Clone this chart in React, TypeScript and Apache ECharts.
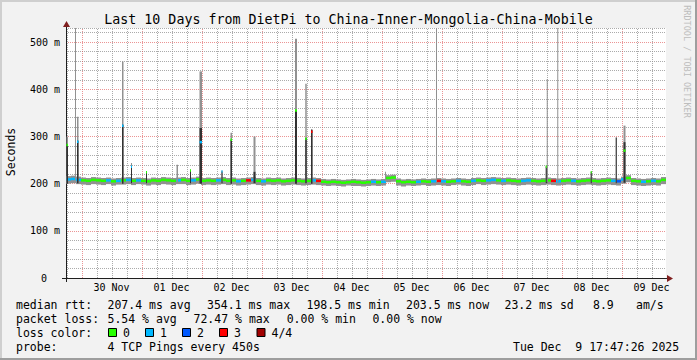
import React, { useEffect, useRef } from 'react';
import * as echarts from 'echarts';

const MONO = '"DejaVu Sans Mono", "Liberation Mono", monospace';

// ---- axes (x = hours since window start, Sat 29 Nov 2025 17:47:26) ----
const windowHours = 240;
const firstMidnightH = 6.2094; // 30 Nov 00:00
const dayLabels = ['30 Nov', '01 Dec', '02 Dec', '03 Dec', '04 Dec', '05 Dec', '06 Dec', '07 Dec', '08 Dec', '09 Dec'];
const yMaxMs = 530;
const yLabelValues = [0, 100, 200, 300, 400, 500];

// ---- baseline smoke, 2-hour buckets ----
const bucketHours = 2;
const medianMs = [
  209, 210, 208, 207, 206, 208, 207, 206, 207, 205,
  206, 207, 208, 206, 207, 206, 205, 207, 206, 208,
  207, 206, 207, 208, 206, 207, 209, 206, 207, 206,
  207, 208, 206, 207, 205, 206, 207, 208, 206, 205,
  207, 206, 207, 205, 206, 207, 206, 205, 206, 207,
  206, 204, 203, 204, 203, 202, 203, 204, 203, 202,
  203, 204, 203, 204, 212, 213, 205, 203, 204, 203,
  204, 205, 204, 205, 206, 205, 204, 205, 206, 205,
  204, 206, 207, 206, 207, 208, 207, 206, 207, 206,
  205, 206, 207, 206, 205, 206, 207, 206, 205, 206,
  207, 206, 205, 206, 207, 206, 205, 206, 207, 206,
  205, 209, 212, 206, 205, 204, 205, 206, 205, 208,
];
const smokeLowMs = [
  200, 201, 199, 198, 197, 199, 198, 197, 199, 196,
  198, 198, 199, 197, 199, 198, 196, 198, 197, 199,
  198, 197, 199, 199, 197, 198, 200, 197, 198, 197,
  198, 199, 197, 198, 196, 197, 198, 199, 197, 196,
  198, 197, 198, 196, 197, 198, 197, 196, 197, 198,
  197, 196, 195, 196, 195, 194, 196, 195, 195, 194,
  195, 196, 195, 196, 203, 204, 196, 194, 196, 195,
  196, 197, 195, 196, 197, 196, 195, 197, 198, 196,
  195, 197, 199, 197, 198, 199, 198, 197, 198, 197,
  196, 197, 198, 197, 196, 197, 198, 197, 196, 197,
  198, 197, 196, 197, 198, 197, 196, 197, 198, 197,
  196, 200, 203, 197, 196, 195, 196, 197, 196, 199,
];
const smokeHighMs = [
  216, 217, 215, 213, 212, 214, 213, 212, 213, 211,
  212, 213, 214, 212, 213, 212, 211, 213, 212, 214,
  213, 212, 213, 214, 212, 213, 215, 212, 213, 212,
  213, 214, 212, 213, 211, 212, 213, 214, 212, 211,
  213, 212, 213, 211, 212, 213, 212, 211, 212, 213,
  212, 210, 209, 210, 209, 208, 209, 210, 209, 208,
  209, 210, 209, 210, 218, 219, 211, 209, 210, 209,
  210, 211, 210, 211, 212, 211, 210, 211, 212, 211,
  210, 212, 213, 212, 213, 214, 213, 212, 213, 212,
  211, 212, 213, 212, 211, 212, 213, 212, 211, 212,
  213, 212, 211, 212, 213, 212, 211, 212, 213, 212,
  211, 215, 218, 212, 211, 210, 211, 212, 211, 214,
];
const lossCount = [
  1, 1, 1, 0, 0, 0, 0, 0, 1, 0,
  1, 0, 1, 0, 1, 0, 0, 0, 0, 0,
  0, 0, 1, 0, 0, 1, 0, 0, 0, 0,
  1, 0, 0, 0, 1, 0, 3, 1, 0, 1,
  0, 0, 0, 0, 0, 0, 0, 0, 0, 1,
  3, 0, 0, 0, 0, 0, 0, 0, 0, 0,
  0, 1, 0, 1, 0, 0, 0, 0, 0, 0,
  1, 0, 0, 1, 3, 1, 0, 0, 1, 0,
  0, 1, 0, 0, 1, 1, 0, 1, 0, 0,
  0, 1, 1, 0, 0, 0, 0, 3, 1, 0,
  0, 1, 0, 0, 0, 0, 0, 0, 0, 1,
  2, 1, 0, 0, 0, 1, 0, 1, 0, 0,
];

// ---- spikes ----
const spikeStartH = [0.2, 3.6, 4.4, 22.4, 26.0, 32.0, 44.2, 49.6, 53.4, 62.2, 65.8, 75.0, 91.6, 95.7, 98.0, 127.6, 148.0, 191.9, 192.3, 196.5, 209.9, 219.9, 223.0];
const spikeDurH = [0.6, 0.4, 0.6, 0.6, 0.4, 0.4, 0.6, 0.4, 1.0, 0.4, 0.6, 0.8, 0.8, 0.6, 0.6, 0.4, 0.4, 0.6, 0.4, 0.4, 0.4, 0.4, 0.8];
const spikeLowMs = [200, 202, 201, 200, 201, 201, 203, 201, 200, 201, 200, 201, 200, 201, 200, 205, 203, 201, 203, 203, 201, 201, 202];
const spikeHighMs = [300, 540, 342, 459, 244, 226, 240, 230, 438, 228, 308, 300, 507, 412, 316, 225, 540, 238, 422, 540, 226, 298, 323];
const spikeInnerMs: (number | null)[] = [284, null, 291, 325, 234, 224, null, 228, 318, 226, 293, 225, 355, 297, 314, null, null, 236, null, null, 224, 298, 288];
const spikeMedianMs: (number | null)[] = [282, null, 289, 323, 236, 224, null, 228, 288, 226, 293, null, 355, 295, 310, null, null, 236, null, null, 224, null, 270];
const spikeLoss = [0, 0, 1, 1, 1, 0, 0, 0, 1, 1, 0, 0, 0, 0, 3, 0, 0, 0, 0, 0, 0, 0, 0];

const lossColors = ['#26ff00', '#00b8ff', '#0059ff', '#ff0000', '#a10000'];
const lossLabels = ['0', '1', '2', '3', '4/4'];

// ---- legend text ----
const titleText = 'Last 10 Days from DietPi to China-Inner-Mongolia-China-Mobile';
const rttStats = ['207.4 ms avg', '354.1 ms max', '198.5 ms min', '203.5 ms now', '23.2 ms sd', '8.9', 'am/s'];
const lossStats = ['5.54 % avg', '72.47 % max', '0.00 % min', '0.00 % now'];
const probeText = '4 TCP Pings every 450s';
const dateText = 'Tue Dec\u00a0\u00a09 17:47:26 2025';

const GRID_MINOR = 'rgba(143,143,143,0.75)';
const GRID_MAJOR = 'rgba(222,79,79,0.6)';

export default function App() {
  const ref = useRef<HTMLDivElement>(null);

  useEffect(() => {
    const el = ref.current;
    if (!el) return;
    const chart = echarts.init(el, undefined, { renderer: 'svg' });

    const gridLines: number[][] = [];
    for (let k = 0; firstMidnightH - 6 + 6 * k < windowHours; k++) {
      const h = firstMidnightH - 6 + 6 * k;
      if (h > 0) gridLines.push([h, (k % 4) === 1 ? 1 : 0]);
    }
    const firstNoonH = firstMidnightH + 12;

    const smokeData = medianMs.map((m, i) => [i * bucketHours, smokeLowMs[i], smokeHighMs[i], m, lossCount[i]]);
    const spikeData = spikeStartH.map((t, i) => [t, spikeDurH[i], spikeLowMs[i], spikeHighMs[i]]);

    const txt = (x: number, y: number, text: string, size = 11.5, extra: any = {}) => ({
      type: 'text', x, y, silent: true,
      style: { text, fontFamily: MONO, fontSize: size, fill: '#000', align: 'left', verticalAlign: 'middle', ...extra },
    });

    const rttX = [107.5, 207, 306.5, 406, 504.5, 593, 636];
    const lossX = [107.5, 193.5, 286.7, 372.4];
    const boxX = [108.5, 145.5, 182.5, 219.5, 257];

    const graphics: any[] = [
      // frame shading
      { type: 'line', silent: true, shape: { x1: 0, y1: 1, x2: 697, y2: 1 }, style: { stroke: '#cfcfcf', lineWidth: 2 } },
      { type: 'line', silent: true, shape: { x1: 1, y1: 0, x2: 1, y2: 360 }, style: { stroke: '#cfcfcf', lineWidth: 2 } },
      { type: 'line', silent: true, shape: { x1: 0, y1: 359, x2: 697, y2: 359 }, style: { stroke: '#9e9e9e', lineWidth: 2 } },
      { type: 'line', silent: true, shape: { x1: 696, y1: 0, x2: 696, y2: 360 }, style: { stroke: '#9e9e9e', lineWidth: 2 } },
      // axis extensions and arrows
      { type: 'line', silent: true, shape: { x1: 62, y1: 278.5, x2: 668, y2: 278.5 }, style: { stroke: '#1f1f1f', lineWidth: 1 } },
      { type: 'line', silent: true, shape: { x1: 66.5, y1: 282, x2: 66.5, y2: 24 }, style: { stroke: '#1f1f1f', lineWidth: 1 } },
      { type: 'polygon', silent: true, shape: { points: [[667, 275], [673, 278.5], [667, 282]] }, style: { fill: '#801f1f' } },
      { type: 'polygon', silent: true, shape: { points: [[63, 27], [66.5, 21], [70, 27]] }, style: { fill: '#801f1f' } },
      // title, axis title, watermark
      txt(348.5, 19.5, titleText, 13.3, { align: 'center' }),
      { ...txt(11, 152, 'Seconds', 11.5, { align: 'center' }), rotation: Math.PI / 2 },
      { ...txt(686.5, 61.5, 'RRDTOOL / TOBI OETIKER', 8.5, { align: 'center', fill: '#bdbdbd' }), rotation: -Math.PI / 2 },
      // legend
      txt(16, 304.5, 'median rtt:'),
      ...rttStats.map((s, i) => txt(rttX[i], 304.5, s)),
      txt(16, 318.5, 'packet loss:'),
      ...lossStats.map((s, i) => txt(lossX[i], 318.5, s)),
      txt(16, 332.5, 'loss color:'),
      ...lossLabels.flatMap((s, i) => [
        { type: 'rect', silent: true, shape: { x: boxX[i], y: 328.5, width: 8, height: 8 }, style: { fill: lossColors[i], stroke: '#000', lineWidth: 1 } },
        txt(boxX[i] + 14.5, 332.5, s),
      ]),
      txt(16, 346.5, 'probe:'),
      txt(107.5, 346.5, probeText),
      txt(513, 346.5, dateText),
    ];

    const option: any = {
      animation: false,
      backgroundColor: '#f2f2f2',
      grid: { left: 66, top: 28, width: 600, height: 250, show: true, backgroundColor: '#ffffff', borderWidth: 0 },
      xAxis: {
        type: 'value', min: 0, max: windowHours,
        axisLine: { show: true, lineStyle: { color: '#1f1f1f', width: 1 } },
        axisTick: { show: false },
        splitLine: { show: false },
        axisLabel: {
          customValues: dayLabels.map((_, k) => firstNoonH + 24 * k),
          formatter: (v: number) => dayLabels[Math.round((v - firstNoonH) / 24)] ?? '',
          fontFamily: MONO, fontSize: 10, color: '#000', margin: 4,
        },
      },
      yAxis: {
        type: 'value', min: 0, max: yMaxMs, interval: 20,
        axisLine: { show: true, lineStyle: { color: '#1f1f1f', width: 1 } },
        axisTick: { show: false },
        splitLine: { show: true, lineStyle: { color: [GRID_MAJOR, GRID_MINOR, GRID_MINOR, GRID_MINOR, GRID_MINOR], type: [1, 1], width: 1 } },
        axisLabel: {
          fontFamily: MONO, fontSize: 10, color: '#000', margin: 6,
          formatter: (v: number) => (yLabelValues.includes(v) ? (v === 0 ? '{z|0}' : `${v} m`) : ''),
          rich: { z: { fontFamily: MONO, fontSize: 10, color: '#000', padding: [0, 13, 0, 0] } },
        },
      },
      series: [
        {
          type: 'custom', name: 'grid', silent: true, clip: true,
          data: gridLines,
          renderItem: (_p: any, api: any) => {
            const x = Math.round(api.coord([api.value(0), 0])[0]) + 0.5;
            const yb = api.coord([0, 0])[1];
            const yt = api.coord([0, yMaxMs])[1];
            return {
              type: 'line',
              shape: { x1: x, y1: yb, x2: x, y2: yt },
              style: { stroke: api.value(1) ? GRID_MAJOR : GRID_MINOR, lineWidth: 1, lineDash: [1, 1] },
            };
          },
        },
        {
          type: 'custom', name: 'smoke', silent: true, clip: true,
          data: smokeData,
          renderItem: (_p: any, api: any) => {
            const t = api.value(0);
            const a = api.coord([t, api.value(1)]);
            const b = api.coord([t + bucketHours, api.value(2)]);
            const m = api.coord([t, api.value(3)]);
            return {
              type: 'group',
              children: [
                { type: 'rect', shape: { x: a[0], y: b[1], width: b[0] - a[0], height: a[1] - b[1] }, style: { fill: '#919191' } },
                { type: 'rect', shape: { x: a[0], y: m[1] - 1.25, width: b[0] - a[0], height: 2.5 }, style: { fill: lossColors[api.value(4)] } },
              ],
            };
          },
        },
        {
          type: 'custom', name: 'spikes', silent: true, clip: true,
          data: spikeData,
          renderItem: (p: any, api: any) => {
            const i = p.dataIndex;
            const t = api.value(0);
            const d = api.value(1);
            const lo = api.coord([t, api.value(2)]);
            const hi = api.coord([t + d, api.value(3)]);
            const w = hi[0] - lo[0];
            const children: any[] = [
              { type: 'rect', shape: { x: lo[0], y: hi[1], width: w, height: lo[1] - hi[1] }, style: { fill: '#919191' } },
            ];
            const inner = spikeInnerMs[i];
            if (inner != null) {
              const iy = api.coord([t, inner])[1];
              children.push({ type: 'rect', shape: { x: lo[0], y: iy, width: w, height: lo[1] - iy }, style: { fill: '#323232' } });
            }
            const med = spikeMedianMs[i];
            if (med != null) {
              const my = api.coord([t, med])[1];
              children.push({ type: 'rect', shape: { x: lo[0], y: my - 1.25, width: w, height: 2.5 }, style: { fill: lossColors[spikeLoss[i]] } });
            }
            return { type: 'group', children };
          },
        },
      ],
      graphic: graphics,
    };

    chart.setOption(option);
    return () => chart.dispose();
  }, []);

  return <div ref={ref} style={{ position: 'absolute', left: 0, top: 0, width: 697, height: 360 }} />;
}
